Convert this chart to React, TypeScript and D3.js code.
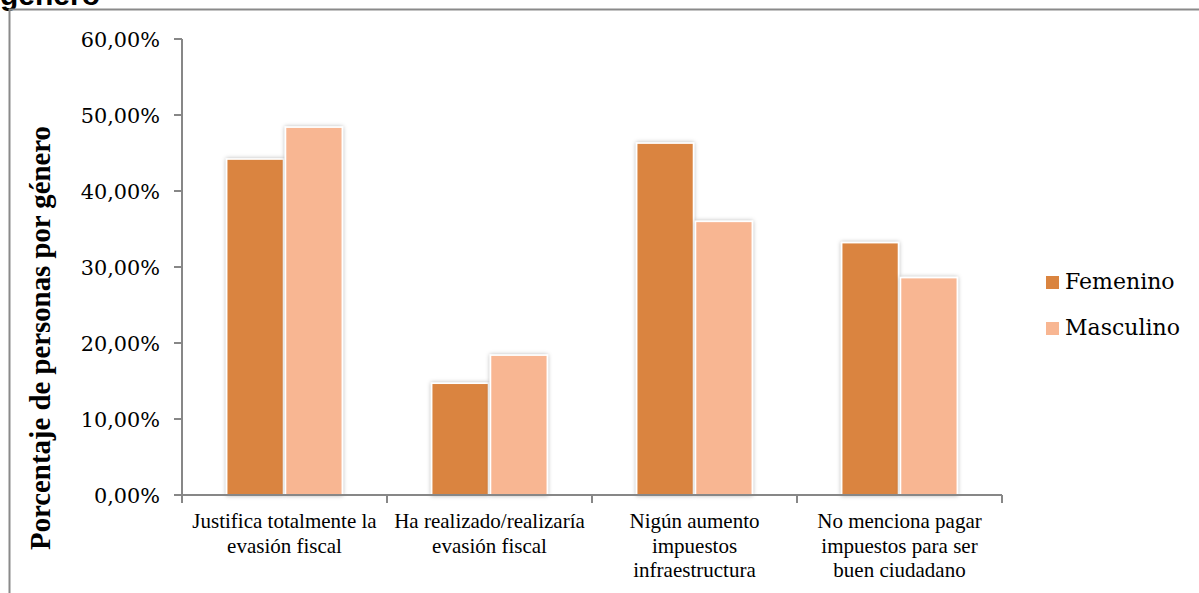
import React from "react";
import * as d3 from "d3";

const categories: string[][] = [
  ["Justifica totalmente la", "evasión fiscal"],
  ["Ha realizado/realizaría", "evasión fiscal"],
  ["Nigún aumento", "impuestos", "infraestructura"],
  ["No menciona pagar", "impuestos para ser", "buen ciudadano"],
];
const seriesNames = ["Femenino", "Masculino"];
const femenino = [0.442, 0.147, 0.463, 0.332];
const masculino = [0.484, 0.184, 0.36, 0.286];
const yTicks = [0, 0.1, 0.2, 0.3, 0.4, 0.5, 0.6];
const colors = ["#DA843F", "#F8B692"];

const W = 1199;
const H = 593;
const left = 182;
const right = 1002;
const top = 39;
const bottom = 495;

export default function App() {
  const x0 = d3
    .scaleBand<number>()
    .domain(d3.range(categories.length))
    .range([left, right])
    .paddingInner(0)
    .paddingOuter(0);
  const x1 = d3
    .scaleBand<number>()
    .domain([0, 1])
    .range([0, x0.bandwidth()])
    .paddingInner(0.035)
    .paddingOuter(0.76);
  const y = d3.scaleLinear().domain([0, 0.6]).range([bottom, top]);
  const fmt = (v: number) => d3.format(".2f")(v * 100).replace(".", ",") + "%";
  const series = [femenino, masculino];
  const axisColor = "#878787";
  const serif = "'DejaVu Serif', serif";
  const times = "'Liberation Serif', 'Times New Roman', serif";

  return (
    <svg width={W} height={H} style={{ display: "block", position: "absolute", left: 0, top: 0 }}>
      <defs>
        <filter id="barShadow" x="-20%" y="-10%" width="140%" height="120%">
          <feDropShadow dx="0" dy="0" stdDeviation="2" floodColor="#000" floodOpacity="0.3" />
        </filter>
      </defs>
      <rect x={0} y={0} width={W} height={H} fill="#fff" />
      {/* chart title, continued from the line above */}
      <text x={0} y={5} fontFamily="'Liberation Sans', Arial, sans-serif" fontWeight="bold" fontSize={30} fill="#000">
        género
      </text>
      {/* frame */}
      <line x1={9} x2={W} y1={9.5} y2={9.5} stroke="#8a8a8a" strokeWidth={2} />
      <line x1={9.5} x2={9.5} y1={9} y2={H} stroke="#8a8a8a" strokeWidth={2} />

      {/* bars */}
      {categories.map((_, i) =>
        series.map((s, j) => (
          <rect
            key={`${i}-${j}`}
            x={(x0(i) as number) + (x1(j) as number)}
            y={y(s[i])}
            width={x1.bandwidth()}
            height={bottom - y(s[i])}
            fill={colors[j]}
            stroke="#fff"
            strokeWidth={1.5}
            filter="url(#barShadow)"
          />
        ))
      )}

      {/* y axis */}
      <line x1={left} x2={left} y1={top} y2={bottom} stroke={axisColor} strokeWidth={2} />
      {yTicks.map((t) => (
        <g key={t}>
          <line x1={left - 8} x2={left} y1={y(t)} y2={y(t)} stroke={axisColor} strokeWidth={2} />
          <text
            x={160}
            y={y(t) + 7.5}
            textAnchor="end"
            fontFamily={serif}
            fontSize={20.8}
            fill="#000"
          >
            {fmt(t)}
          </text>
        </g>
      ))}

      {/* x axis */}
      <line x1={left} x2={right} y1={bottom} y2={bottom} stroke={axisColor} strokeWidth={2} />
      {d3.range(categories.length + 1).map((i) => {
        const xv = i < categories.length ? (x0(i) as number) : right;
        return <line key={i} x1={xv} x2={xv} y1={bottom} y2={bottom + 8} stroke={axisColor} strokeWidth={2} />;
      })}
      {categories.map((lines, i) => (
        <text
          key={i}
          x={(x0(i) as number) + x0.bandwidth() / 2}
          textAnchor="middle"
          fontFamily={times}
          fontSize={21}
          fill="#000"
        >
          {lines.map((l, k) => (
            <tspan key={k} x={(x0(i) as number) + x0.bandwidth() / 2} y={528 + k * 24.5}>
              {l}
            </tspan>
          ))}
        </text>
      ))}

      {/* y axis title */}
      <text
        transform={`translate(50, 338) rotate(-90)`}
        textAnchor="middle"
        fontFamily={times}
        fontWeight="bold"
        fontSize={28.8}
        fill="#000"
      >
        Porcentaje de personas por género
      </text>

      {/* legend */}
      {seriesNames.map((n, j) => (
        <g key={n}>
          <rect x={1046} y={276 + j * 46} width={13} height={13} fill={colors[j]} />
          <text x={1065} y={289 + j * 46} fontFamily={serif} fontSize={22} fill="#000">
            {n}
          </text>
        </g>
      ))}
    </svg>
  );
}
